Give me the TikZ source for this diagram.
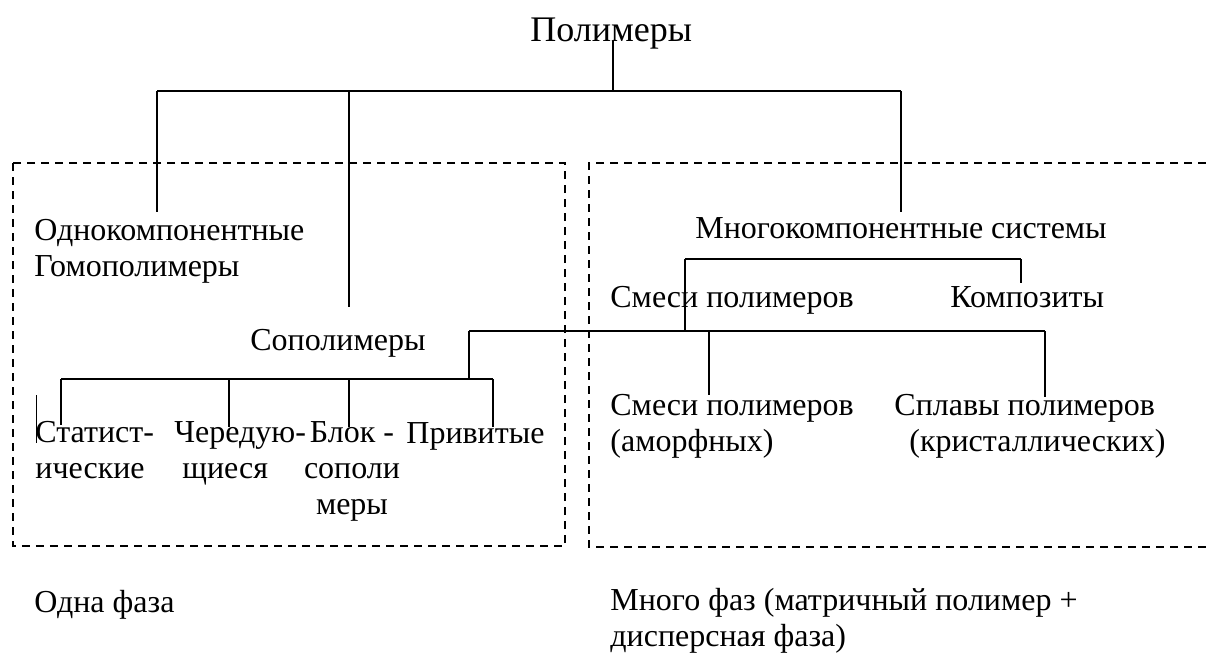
\documentclass[tikz,border=0pt]{standalone}
\usepackage{fontspec}
\setmainfont{Liberation Serif}
\usetikzlibrary{calc, positioning}

\begin{document}
\begin{tikzpicture}[x=0.5pt, y=-0.5pt,
  lbl/.style={inner sep=0pt, anchor=base west, align=left, font=\fontsize{16}{18}\selectfont},
  branch/.style={line width=1pt},
  phasebox/.style={line width=0.9pt, dash pattern=on 4pt off 3pt}]
\useasboundingbox (0,0) rectangle (1206,654);

% text (multi-line nodes sit on their last line)
\node[lbl, font=\fontsize{18}{21}\selectfont] (polym) at (530,41) {Полимеры};
\node[lbl] (odnok) at (34,276) {Однокомпонентные\\Гомополимеры};
\node[lbl] (sopol) at (250,350) {Сополимеры};
\node[lbl] (mnogo) at (695,238) {Многокомпонентные системы};
\node[lbl] (smesi) at (610,307) {Смеси полимеров};
\node[lbl] (kompoz) at (950,307) {Композиты};
\node[lbl] (stat) at (35,478) {Статист-\\ические};
\node[lbl] (chered) at (174,478) {Чередую-\\\hspace*{4pt}щиеся};
\node[lbl, anchor=base, align=center] (blok) at (352,514) {Блок -\\сополи\\меры};
\node[lbl] (privit) at (406,443) {Привитые};
\node[lbl] (amorf) at (610,451) {Смеси полимеров\\(аморфных)};
\node[lbl] (splav) at (894,451) {Сплавы полимеров\\\hspace*{7.5pt}(кристаллических)};
\node[lbl] (odna) at (34,612) {Одна фаза};
\node[lbl] (mnfaz) at (610,646) {Много фаз (матричный полимер +\\дисперсная фаза)};

% junctions
\coordinate (top) at (613,91);
\coordinate (topL) at (157,91);
\coordinate (topM) at (349,91);
\coordinate (topR) at (901,91);
\coordinate (odnokEnd) at (157,212);
\coordinate (sopolEnd) at (349,307);
\coordinate (mnogoEnd) at (901,212);

\coordinate (mcL) at (685,259);
\coordinate (mcR) at (1021,259);
\coordinate (kompEnd) at (1021,283);

\coordinate (midL) at (469,331);
\coordinate (midS) at (685,331);
\coordinate (midA) at (709,331);
\coordinate (midR) at (1045,331);
\coordinate (amorfEnd) at (709,395);
\coordinate (splavEnd) at (1045,397);

\coordinate (coM) at (469,379);
\coordinate (coL) at (61,379);
\coordinate (coR) at (493,379);
\coordinate (statEnd) at (61,425);
\coordinate (cheredEnd) at (229,427);
\coordinate (blokEnd) at (349,427);
\coordinate (privitEnd) at (493,427);

\coordinate (caretTop) at (36,395);
\coordinate (caretBot) at (36,443);

% tree
\draw[branch] (polym.base -| top) -- (top);
\draw[branch] (topL) -- (topR);
\draw[branch] (topL) -- (odnokEnd);
\draw[branch] (topM) -- (sopolEnd);
\draw[branch] (topR) -- (mnogoEnd);

\draw[branch] (mcL) -- (mcR);
\draw[branch] (mcR) -- (kompEnd);
\draw[branch] (mcL) -- (midS);

\draw[branch] (midL) -- (midR);
\draw[branch] (midA) -- (amorfEnd);
\draw[branch] (midR) -- (splavEnd);
\draw[branch] (midL) -- (coM);

\draw[branch] (coL) -- (coR);
\draw[branch] (coL) -- (statEnd);
\draw[branch] (coL -| cheredEnd) -- (cheredEnd);
\draw[branch] (coL -| blokEnd) -- (blokEnd);
\draw[branch] (coR) -- (privitEnd);

\draw[line width=0.5pt] (caretTop) -- (caretBot);

% phases
\draw[phasebox] (13,163) rectangle (565,546);
\draw[phasebox] (1206,163) -- (589,163) -- (589,547) -- (1206,547);
\end{tikzpicture}
\end{document}
